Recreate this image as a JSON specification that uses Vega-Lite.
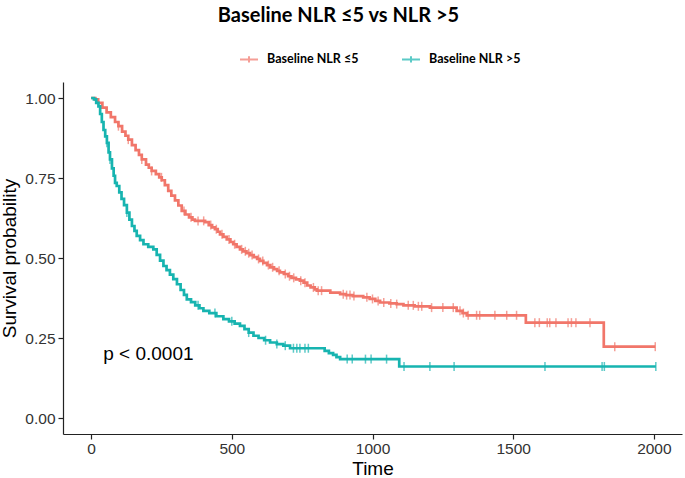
{
  "$schema": "https://vega.github.io/schema/vega-lite/v6.json",
  "autosize": "none",
  "width": 619,
  "height": 352,
  "padding": {"left": 63, "top": 82, "right": 3, "bottom": 44},
  "background": "white",
  "title": {
    "text": "Baseline NLR ≤5 vs NLR >5",
    "font": "Lato",
    "fontSize": 20,
    "fontWeight": "bold",
    "color": "#000000",
    "anchor": "middle",
    "dx": -34,
    "offset": 23
  },
  "config": {
    "view": {"stroke": null},
    "axis": {
      "grid": false,
      "domainColor": "#222222",
      "domainWidth": 1.2,
      "tickColor": "#222222",
      "tickWidth": 1.2,
      "tickSize": 5,
      "labelFont": "Liberation Sans",
      "labelFontSize": 15.5,
      "labelColor": "#333333",
      "titleFont": "Liberation Sans",
      "titleFontSize": 19,
      "titleFontWeight": "normal",
      "titleColor": "#000000"
    }
  },
  "datasets": {
    "curves": [
      {"time": 0, "surv": 1.0, "group": "Baseline NLR ≤5"},
      {"time": 15, "surv": 0.996, "group": "Baseline NLR ≤5"},
      {"time": 25, "surv": 0.985, "group": "Baseline NLR ≤5"},
      {"time": 40, "surv": 0.97, "group": "Baseline NLR ≤5"},
      {"time": 55, "surv": 0.955, "group": "Baseline NLR ≤5"},
      {"time": 70, "surv": 0.94, "group": "Baseline NLR ≤5"},
      {"time": 85, "surv": 0.925, "group": "Baseline NLR ≤5"},
      {"time": 97, "surv": 0.912, "group": "Baseline NLR ≤5"},
      {"time": 110, "surv": 0.895, "group": "Baseline NLR ≤5"},
      {"time": 122, "surv": 0.882, "group": "Baseline NLR ≤5"},
      {"time": 132, "surv": 0.87, "group": "Baseline NLR ≤5"},
      {"time": 145, "surv": 0.853, "group": "Baseline NLR ≤5"},
      {"time": 158, "surv": 0.837, "group": "Baseline NLR ≤5"},
      {"time": 170, "surv": 0.822, "group": "Baseline NLR ≤5"},
      {"time": 180, "surv": 0.808, "group": "Baseline NLR ≤5"},
      {"time": 195, "surv": 0.792, "group": "Baseline NLR ≤5"},
      {"time": 205, "surv": 0.782, "group": "Baseline NLR ≤5"},
      {"time": 215, "surv": 0.772, "group": "Baseline NLR ≤5"},
      {"time": 230, "surv": 0.762, "group": "Baseline NLR ≤5"},
      {"time": 242, "surv": 0.752, "group": "Baseline NLR ≤5"},
      {"time": 251, "surv": 0.743, "group": "Baseline NLR ≤5"},
      {"time": 262, "surv": 0.728, "group": "Baseline NLR ≤5"},
      {"time": 274, "surv": 0.71, "group": "Baseline NLR ≤5"},
      {"time": 285, "surv": 0.695, "group": "Baseline NLR ≤5"},
      {"time": 298, "surv": 0.68, "group": "Baseline NLR ≤5"},
      {"time": 310, "surv": 0.664, "group": "Baseline NLR ≤5"},
      {"time": 322, "surv": 0.647, "group": "Baseline NLR ≤5"},
      {"time": 335, "surv": 0.636, "group": "Baseline NLR ≤5"},
      {"time": 348, "surv": 0.627, "group": "Baseline NLR ≤5"},
      {"time": 360, "surv": 0.62, "group": "Baseline NLR ≤5"},
      {"time": 369, "surv": 0.616, "group": "Baseline NLR ≤5"},
      {"time": 405, "surv": 0.612, "group": "Baseline NLR ≤5"},
      {"time": 418, "surv": 0.603, "group": "Baseline NLR ≤5"},
      {"time": 430, "surv": 0.596, "group": "Baseline NLR ≤5"},
      {"time": 440, "surv": 0.59, "group": "Baseline NLR ≤5"},
      {"time": 450, "surv": 0.582, "group": "Baseline NLR ≤5"},
      {"time": 458, "surv": 0.574, "group": "Baseline NLR ≤5"},
      {"time": 470, "surv": 0.566, "group": "Baseline NLR ≤5"},
      {"time": 482, "surv": 0.558, "group": "Baseline NLR ≤5"},
      {"time": 495, "surv": 0.55, "group": "Baseline NLR ≤5"},
      {"time": 505, "surv": 0.543, "group": "Baseline NLR ≤5"},
      {"time": 517, "surv": 0.535, "group": "Baseline NLR ≤5"},
      {"time": 529, "surv": 0.527, "group": "Baseline NLR ≤5"},
      {"time": 540, "surv": 0.521, "group": "Baseline NLR ≤5"},
      {"time": 552, "surv": 0.515, "group": "Baseline NLR ≤5"},
      {"time": 565, "surv": 0.509, "group": "Baseline NLR ≤5"},
      {"time": 578, "surv": 0.503, "group": "Baseline NLR ≤5"},
      {"time": 590, "surv": 0.497, "group": "Baseline NLR ≤5"},
      {"time": 600, "surv": 0.491, "group": "Baseline NLR ≤5"},
      {"time": 612, "surv": 0.485, "group": "Baseline NLR ≤5"},
      {"time": 625, "surv": 0.478, "group": "Baseline NLR ≤5"},
      {"time": 637, "surv": 0.471, "group": "Baseline NLR ≤5"},
      {"time": 650, "surv": 0.465, "group": "Baseline NLR ≤5"},
      {"time": 661, "surv": 0.46, "group": "Baseline NLR ≤5"},
      {"time": 671, "surv": 0.455, "group": "Baseline NLR ≤5"},
      {"time": 685, "surv": 0.45, "group": "Baseline NLR ≤5"},
      {"time": 700, "surv": 0.443, "group": "Baseline NLR ≤5"},
      {"time": 712, "surv": 0.438, "group": "Baseline NLR ≤5"},
      {"time": 728, "surv": 0.433, "group": "Baseline NLR ≤5"},
      {"time": 742, "surv": 0.429, "group": "Baseline NLR ≤5"},
      {"time": 755, "surv": 0.423, "group": "Baseline NLR ≤5"},
      {"time": 768, "surv": 0.414, "group": "Baseline NLR ≤5"},
      {"time": 780, "surv": 0.408, "group": "Baseline NLR ≤5"},
      {"time": 795, "surv": 0.402, "group": "Baseline NLR ≤5"},
      {"time": 802, "surv": 0.398, "group": "Baseline NLR ≤5"},
      {"time": 850, "surv": 0.392, "group": "Baseline NLR ≤5"},
      {"time": 885, "surv": 0.387, "group": "Baseline NLR ≤5"},
      {"time": 905, "surv": 0.384, "group": "Baseline NLR ≤5"},
      {"time": 930, "surv": 0.381, "group": "Baseline NLR ≤5"},
      {"time": 967, "surv": 0.377, "group": "Baseline NLR ≤5"},
      {"time": 990, "surv": 0.372, "group": "Baseline NLR ≤5"},
      {"time": 1010, "surv": 0.366, "group": "Baseline NLR ≤5"},
      {"time": 1027, "surv": 0.361, "group": "Baseline NLR ≤5"},
      {"time": 1060, "surv": 0.358, "group": "Baseline NLR ≤5"},
      {"time": 1086, "surv": 0.356, "group": "Baseline NLR ≤5"},
      {"time": 1110, "surv": 0.352, "group": "Baseline NLR ≤5"},
      {"time": 1150, "surv": 0.349, "group": "Baseline NLR ≤5"},
      {"time": 1204, "surv": 0.345, "group": "Baseline NLR ≤5"},
      {"time": 1299, "surv": 0.335, "group": "Baseline NLR ≤5"},
      {"time": 1320, "surv": 0.328, "group": "Baseline NLR ≤5"},
      {"time": 1335, "surv": 0.321, "group": "Baseline NLR ≤5"},
      {"time": 1545, "surv": 0.298, "group": "Baseline NLR ≤5"},
      {"time": 1822, "surv": 0.223, "group": "Baseline NLR ≤5"},
      {"time": 2005, "surv": 0.223, "group": "Baseline NLR ≤5"},
      {"time": 0, "surv": 1.0, "group": "Baseline NLR >5"},
      {"time": 10, "surv": 0.996, "group": "Baseline NLR >5"},
      {"time": 18, "surv": 0.985, "group": "Baseline NLR >5"},
      {"time": 26, "surv": 0.974, "group": "Baseline NLR >5"},
      {"time": 32, "surv": 0.95, "group": "Baseline NLR >5"},
      {"time": 38, "surv": 0.925, "group": "Baseline NLR >5"},
      {"time": 44, "surv": 0.9, "group": "Baseline NLR >5"},
      {"time": 50, "surv": 0.88, "group": "Baseline NLR >5"},
      {"time": 56, "surv": 0.86, "group": "Baseline NLR >5"},
      {"time": 62, "surv": 0.83, "group": "Baseline NLR >5"},
      {"time": 67, "surv": 0.808, "group": "Baseline NLR >5"},
      {"time": 74, "surv": 0.78, "group": "Baseline NLR >5"},
      {"time": 80, "surv": 0.757, "group": "Baseline NLR >5"},
      {"time": 85, "surv": 0.735, "group": "Baseline NLR >5"},
      {"time": 91, "surv": 0.725, "group": "Baseline NLR >5"},
      {"time": 100, "surv": 0.705, "group": "Baseline NLR >5"},
      {"time": 108, "surv": 0.685, "group": "Baseline NLR >5"},
      {"time": 117, "surv": 0.665, "group": "Baseline NLR >5"},
      {"time": 127, "surv": 0.642, "group": "Baseline NLR >5"},
      {"time": 136, "surv": 0.62, "group": "Baseline NLR >5"},
      {"time": 145, "surv": 0.6, "group": "Baseline NLR >5"},
      {"time": 154, "surv": 0.585, "group": "Baseline NLR >5"},
      {"time": 162, "surv": 0.569, "group": "Baseline NLR >5"},
      {"time": 174, "surv": 0.556, "group": "Baseline NLR >5"},
      {"time": 186, "surv": 0.543, "group": "Baseline NLR >5"},
      {"time": 203, "surv": 0.535, "group": "Baseline NLR >5"},
      {"time": 221, "surv": 0.527, "group": "Baseline NLR >5"},
      {"time": 233, "surv": 0.51, "group": "Baseline NLR >5"},
      {"time": 245, "surv": 0.492, "group": "Baseline NLR >5"},
      {"time": 257, "surv": 0.475, "group": "Baseline NLR >5"},
      {"time": 268, "surv": 0.462, "group": "Baseline NLR >5"},
      {"time": 280, "surv": 0.448, "group": "Baseline NLR >5"},
      {"time": 292, "surv": 0.434, "group": "Baseline NLR >5"},
      {"time": 305, "surv": 0.418, "group": "Baseline NLR >5"},
      {"time": 318, "surv": 0.4, "group": "Baseline NLR >5"},
      {"time": 330, "surv": 0.385, "group": "Baseline NLR >5"},
      {"time": 340, "surv": 0.371, "group": "Baseline NLR >5"},
      {"time": 355, "surv": 0.362, "group": "Baseline NLR >5"},
      {"time": 370, "surv": 0.352, "group": "Baseline NLR >5"},
      {"time": 385, "surv": 0.343, "group": "Baseline NLR >5"},
      {"time": 399, "surv": 0.335, "group": "Baseline NLR >5"},
      {"time": 420, "surv": 0.328, "group": "Baseline NLR >5"},
      {"time": 445, "surv": 0.318, "group": "Baseline NLR >5"},
      {"time": 470, "surv": 0.309, "group": "Baseline NLR >5"},
      {"time": 490, "surv": 0.302, "group": "Baseline NLR >5"},
      {"time": 510, "surv": 0.295, "group": "Baseline NLR >5"},
      {"time": 529, "surv": 0.288, "group": "Baseline NLR >5"},
      {"time": 545, "surv": 0.278, "group": "Baseline NLR >5"},
      {"time": 560, "surv": 0.267, "group": "Baseline NLR >5"},
      {"time": 577, "surv": 0.257, "group": "Baseline NLR >5"},
      {"time": 595, "surv": 0.25, "group": "Baseline NLR >5"},
      {"time": 615, "surv": 0.243, "group": "Baseline NLR >5"},
      {"time": 636, "surv": 0.236, "group": "Baseline NLR >5"},
      {"time": 660, "surv": 0.231, "group": "Baseline NLR >5"},
      {"time": 683, "surv": 0.226, "group": "Baseline NLR >5"},
      {"time": 707, "surv": 0.218, "group": "Baseline NLR >5"},
      {"time": 830, "surv": 0.21, "group": "Baseline NLR >5"},
      {"time": 845, "surv": 0.203, "group": "Baseline NLR >5"},
      {"time": 860, "surv": 0.197, "group": "Baseline NLR >5"},
      {"time": 872, "surv": 0.19, "group": "Baseline NLR >5"},
      {"time": 885, "surv": 0.184, "group": "Baseline NLR >5"},
      {"time": 1095, "surv": 0.161, "group": "Baseline NLR >5"},
      {"time": 2007, "surv": 0.161, "group": "Baseline NLR >5"}
    ],
    "censor": [
      {"time": 97, "surv": 0.912, "group": "Baseline NLR ≤5"},
      {"time": 132, "surv": 0.87, "group": "Baseline NLR ≤5"},
      {"time": 180, "surv": 0.808, "group": "Baseline NLR ≤5"},
      {"time": 215, "surv": 0.772, "group": "Baseline NLR ≤5"},
      {"time": 250, "surv": 0.752, "group": "Baseline NLR ≤5"},
      {"time": 330, "surv": 0.647, "group": "Baseline NLR ≤5"},
      {"time": 355, "surv": 0.627, "group": "Baseline NLR ≤5"},
      {"time": 380, "surv": 0.616, "group": "Baseline NLR ≤5"},
      {"time": 400, "surv": 0.616, "group": "Baseline NLR ≤5"},
      {"time": 425, "surv": 0.603, "group": "Baseline NLR ≤5"},
      {"time": 445, "surv": 0.59, "group": "Baseline NLR ≤5"},
      {"time": 465, "surv": 0.574, "group": "Baseline NLR ≤5"},
      {"time": 490, "surv": 0.558, "group": "Baseline NLR ≤5"},
      {"time": 510, "surv": 0.543, "group": "Baseline NLR ≤5"},
      {"time": 535, "surv": 0.527, "group": "Baseline NLR ≤5"},
      {"time": 548, "surv": 0.521, "group": "Baseline NLR ≤5"},
      {"time": 560, "surv": 0.515, "group": "Baseline NLR ≤5"},
      {"time": 572, "surv": 0.509, "group": "Baseline NLR ≤5"},
      {"time": 595, "surv": 0.497, "group": "Baseline NLR ≤5"},
      {"time": 610, "surv": 0.491, "group": "Baseline NLR ≤5"},
      {"time": 630, "surv": 0.478, "group": "Baseline NLR ≤5"},
      {"time": 645, "surv": 0.471, "group": "Baseline NLR ≤5"},
      {"time": 668, "surv": 0.46, "group": "Baseline NLR ≤5"},
      {"time": 690, "surv": 0.45, "group": "Baseline NLR ≤5"},
      {"time": 705, "surv": 0.443, "group": "Baseline NLR ≤5"},
      {"time": 720, "surv": 0.438, "group": "Baseline NLR ≤5"},
      {"time": 745, "surv": 0.429, "group": "Baseline NLR ≤5"},
      {"time": 760, "surv": 0.423, "group": "Baseline NLR ≤5"},
      {"time": 790, "surv": 0.408, "group": "Baseline NLR ≤5"},
      {"time": 807, "surv": 0.398, "group": "Baseline NLR ≤5"},
      {"time": 819, "surv": 0.398, "group": "Baseline NLR ≤5"},
      {"time": 896, "surv": 0.387, "group": "Baseline NLR ≤5"},
      {"time": 908, "surv": 0.384, "group": "Baseline NLR ≤5"},
      {"time": 920, "surv": 0.384, "group": "Baseline NLR ≤5"},
      {"time": 934, "surv": 0.381, "group": "Baseline NLR ≤5"},
      {"time": 980, "surv": 0.377, "group": "Baseline NLR ≤5"},
      {"time": 1000, "surv": 0.372, "group": "Baseline NLR ≤5"},
      {"time": 1020, "surv": 0.366, "group": "Baseline NLR ≤5"},
      {"time": 1040, "surv": 0.361, "group": "Baseline NLR ≤5"},
      {"time": 1065, "surv": 0.358, "group": "Baseline NLR ≤5"},
      {"time": 1086, "surv": 0.356, "group": "Baseline NLR ≤5"},
      {"time": 1127, "surv": 0.352, "group": "Baseline NLR ≤5"},
      {"time": 1145, "surv": 0.352, "group": "Baseline NLR ≤5"},
      {"time": 1163, "surv": 0.349, "group": "Baseline NLR ≤5"},
      {"time": 1175, "surv": 0.349, "group": "Baseline NLR ≤5"},
      {"time": 1210, "surv": 0.345, "group": "Baseline NLR ≤5"},
      {"time": 1250, "surv": 0.345, "group": "Baseline NLR ≤5"},
      {"time": 1287, "surv": 0.345, "group": "Baseline NLR ≤5"},
      {"time": 1311, "surv": 0.335, "group": "Baseline NLR ≤5"},
      {"time": 1323, "surv": 0.328, "group": "Baseline NLR ≤5"},
      {"time": 1340, "surv": 0.321, "group": "Baseline NLR ≤5"},
      {"time": 1370, "surv": 0.321, "group": "Baseline NLR ≤5"},
      {"time": 1381, "surv": 0.321, "group": "Baseline NLR ≤5"},
      {"time": 1435, "surv": 0.321, "group": "Baseline NLR ≤5"},
      {"time": 1477, "surv": 0.321, "group": "Baseline NLR ≤5"},
      {"time": 1512, "surv": 0.321, "group": "Baseline NLR ≤5"},
      {"time": 1577, "surv": 0.298, "group": "Baseline NLR ≤5"},
      {"time": 1593, "surv": 0.298, "group": "Baseline NLR ≤5"},
      {"time": 1621, "surv": 0.298, "group": "Baseline NLR ≤5"},
      {"time": 1630, "surv": 0.298, "group": "Baseline NLR ≤5"},
      {"time": 1652, "surv": 0.298, "group": "Baseline NLR ≤5"},
      {"time": 1695, "surv": 0.298, "group": "Baseline NLR ≤5"},
      {"time": 1707, "surv": 0.298, "group": "Baseline NLR ≤5"},
      {"time": 1723, "surv": 0.298, "group": "Baseline NLR ≤5"},
      {"time": 1773, "surv": 0.298, "group": "Baseline NLR ≤5"},
      {"time": 1861, "surv": 0.223, "group": "Baseline NLR ≤5"},
      {"time": 2005, "surv": 0.223, "group": "Baseline NLR ≤5"},
      {"time": 56, "surv": 0.86, "group": "Baseline NLR >5"},
      {"time": 67, "surv": 0.808, "group": "Baseline NLR >5"},
      {"time": 127, "surv": 0.642, "group": "Baseline NLR >5"},
      {"time": 380, "surv": 0.352, "group": "Baseline NLR >5"},
      {"time": 440, "surv": 0.328, "group": "Baseline NLR >5"},
      {"time": 500, "surv": 0.302, "group": "Baseline NLR >5"},
      {"time": 560, "surv": 0.267, "group": "Baseline NLR >5"},
      {"time": 620, "surv": 0.243, "group": "Baseline NLR >5"},
      {"time": 660, "surv": 0.231, "group": "Baseline NLR >5"},
      {"time": 690, "surv": 0.226, "group": "Baseline NLR >5"},
      {"time": 719, "surv": 0.218, "group": "Baseline NLR >5"},
      {"time": 731, "surv": 0.218, "group": "Baseline NLR >5"},
      {"time": 742, "surv": 0.218, "group": "Baseline NLR >5"},
      {"time": 760, "surv": 0.218, "group": "Baseline NLR >5"},
      {"time": 772, "surv": 0.218, "group": "Baseline NLR >5"},
      {"time": 910, "surv": 0.184, "group": "Baseline NLR >5"},
      {"time": 928, "surv": 0.184, "group": "Baseline NLR >5"},
      {"time": 975, "surv": 0.184, "group": "Baseline NLR >5"},
      {"time": 995, "surv": 0.184, "group": "Baseline NLR >5"},
      {"time": 1050, "surv": 0.184, "group": "Baseline NLR >5"},
      {"time": 1112, "surv": 0.161, "group": "Baseline NLR >5"},
      {"time": 1204, "surv": 0.161, "group": "Baseline NLR >5"},
      {"time": 1290, "surv": 0.161, "group": "Baseline NLR >5"},
      {"time": 1613, "surv": 0.161, "group": "Baseline NLR >5"},
      {"time": 1816, "surv": 0.161, "group": "Baseline NLR >5"},
      {"time": 1824, "surv": 0.161, "group": "Baseline NLR >5"},
      {"time": 2007, "surv": 0.161, "group": "Baseline NLR >5"}
    ],
    "note": [
      {"time": 43, "surv": 0.2, "label": "p < 0.0001"}
    ]
  },
  "encoding": {
    "x": {
      "field": "time",
      "type": "quantitative",
      "scale": {"domain": [-100, 2100], "nice": false, "zero": false},
      "axis": {"values": [0, 500, 1000, 1500, 2000], "format": "d", "title": "Time", "labelPadding": 2, "titlePadding": 3, "labelFlush": false}
    },
    "y": {
      "field": "surv",
      "type": "quantitative",
      "scale": {"domain": [-0.05, 1.05], "nice": false, "zero": false},
      "axis": {"values": [0, 0.25, 0.5, 0.75, 1], "format": ".2f", "title": "Survival probability", "labelPadding": 3, "titlePadding": 5, "labelFlush": false}
    }
  },
  "layer": [
    {
      "data": {"name": "curves"},
      "mark": {"type": "line", "interpolate": "step-after", "strokeWidth": 2.7},
      "encoding": {
        "color": {
          "field": "group",
          "type": "nominal",
          "scale": {"domain": ["Baseline NLR ≤5", "Baseline NLR >5"], "range": ["#F1766A", "#17B4B0"]},
          "legend": {
            "orient": "none",
            "legendX": 176,
            "legendY": -33,
            "direction": "horizontal",
            "title": null,
            "symbolType": "M-1,0H1M0,-0.35V0.35",
            "symbolSize": 324,
            "symbolStrokeWidth": 2,
            "symbolOpacity": 0.8,
            "labelFont": "Lato",
            "labelFontWeight": "bold",
            "labelFontSize": 12.5,
            "labelColor": "#000000",
            "labelOffset": 8,
            "columnPadding": 39
          }
        }
      }
    },
    {
      "data": {"name": "censor"},
      "mark": {"type": "tick", "orient": "vertical", "size": 9, "thickness": 1.5},
      "encoding": {
        "color": {"field": "group", "type": "nominal"}
      }
    },
    {
      "data": {"name": "note"},
      "mark": {"type": "text", "align": "left", "baseline": "middle", "font": "Liberation Sans", "fontSize": 19, "color": "#000000"},
      "encoding": {
        "text": {"field": "label"}
      }
    }
  ]
}
